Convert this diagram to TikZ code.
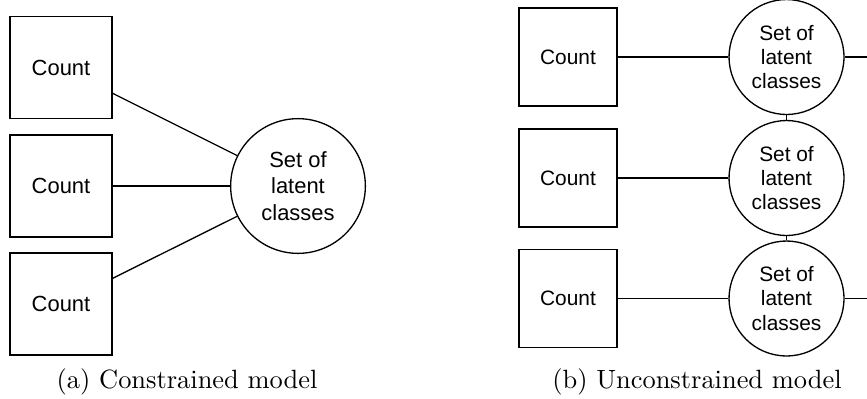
\documentclass[tikz,border=0pt]{standalone}
\usepackage{fontspec}
\newfontfamily\diagfont{Liberation Sans}
\tikzset{
  countbox/.style={draw, rectangle, inner sep=0pt, align=center},
  latentset/.style={draw, circle, inner sep=0pt, align=center},
}

\begin{document}
\begin{tikzpicture}[x=0.0133cm, y=-0.0133cm, line width=0.5pt]
  \useasboundingbox (0,0) rectangle (867,398);
  % (a) one shared set of latent classes
  \begin{scope}[every node/.append style={font=\diagfont\fontsize{8.3}{10}\selectfont}]
    \foreach \i/\y in {1/67.5, 2/186, 3/304}{%
      \node[countbox, minimum size=38.6pt] (ca\i) at (61,\y) {Count};}
    \node[latentset, minimum size=51pt] (sa) at (298,186) {Set of\\latent\\classes};
    \foreach \i in {1,2,3}{%
      \draw (ca\i) -- (sa);}
  \end{scope}
  \node[anchor=base] (capa) at (187,388) {(a) Constrained model};
  % (b) one set per count, chained
  \begin{scope}[every node/.append style={font=\diagfont\fontsize{7.9}{9.2}\selectfont}]
    \foreach \i/\y in {1/57, 2/178, 3/298.5}{%
      \node[countbox, minimum size=37pt] (cb\i) at (568,\y) {Count};
      \node[latentset, minimum size=43.5pt] (sb\i) at (786.5,\y) {Set of\\latent\\classes};
      \draw (cb\i) -- (sb\i);}
  \end{scope}
  \draw (sb1) -- (sb2);
  \draw (sb2) -- (sb3);
  \coordinate (eb1) at (867,57);
  \coordinate (eb3) at (867,298.5);
  \draw (sb1) -- (eb1);
  \draw (sb3) -- (eb3);
  \node[anchor=base] (capb) at (697,388) {(b) Unconstrained model};
\end{tikzpicture}
\end{document}
